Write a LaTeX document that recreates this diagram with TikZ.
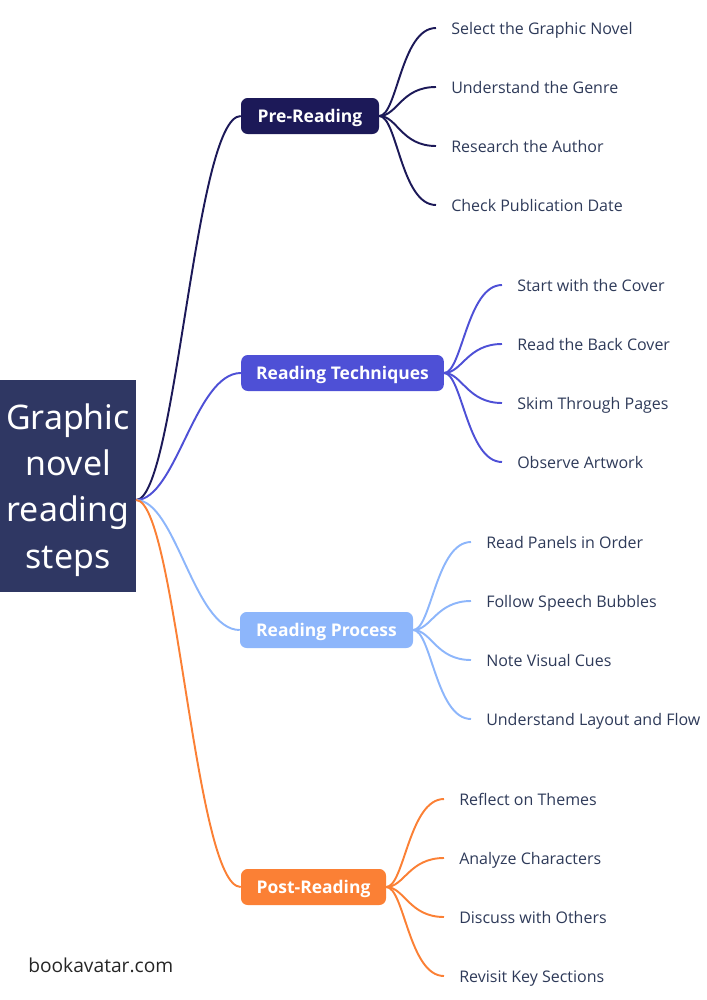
\documentclass[tikz,border=0pt]{standalone}
\usepackage{fontspec}
\setmainfont{Open Sans}
\newfontfamily\titlefont{Noto Sans}
\usetikzlibrary{calc}
\definecolor{cone}{HTML}{1C1958}
\definecolor{ctwo}{HTML}{4E50D6}
\definecolor{cthree}{HTML}{8DB6FB}
\definecolor{cfour}{HTML}{FB8035}
\definecolor{croot}{HTML}{2F3763}
\definecolor{ctext}{HTML}{2E3A59}
\tikzset{
 px/.style={x=0.75pt,y=-0.75pt},
 rootbox/.style={fill=croot,minimum width=102pt,minimum height=159pt,inner sep=0pt},
 roottext/.style={text=white,inner sep=0pt,align=center,font=\titlefont\fontsize{25.4}{34.6}\selectfont},
 branch/.style={rounded corners=5pt,minimum height=27pt,inner sep=0pt,text height=11pt,text depth=1pt,text=white,font=\fontsize{13.1}{15}\selectfont\bfseries},
 leaf/.style={inner sep=0pt,text=ctext,anchor=west,text height=10.5pt,text depth=1.1pt,font=\fontsize{12}{15}\selectfont},
 link/.style={line width=1.45pt},
 foot/.style={inner sep=0pt,anchor=west,text=black!85,font=\fontsize{14.4}{16}\selectfont},
}
\begin{document}
\begin{tikzpicture}[px]
\useasboundingbox (0,0) rectangle (707,1000);
\node[rootbox] (root) at (68,486) {};
\node[roottext] (rootlabel) at (68,490) {Graphic\\novel\\reading\\steps};
\coordinate (rootout) at (136,500);
\node[branch,fill=cone,minimum width=103.5pt] (b1) at (310,116) {Pre-Reading};
\node[branch,fill=ctwo,minimum width=152pt] (b2) at (342.5,373) {Reading Techniques};
\node[branch,fill=cthree,minimum width=129.75pt] (b3) at (326.5,630) {Reading Process};
\node[branch,fill=cfour,minimum width=108.75pt] (b4) at (313.5,887) {Post-Reading};
\foreach \n/\c in {b1/cone,b2/ctwo,b3/cthree,b4/cfour}{
 \draw[link,\c] (rootout) .. controls ($(rootout)+(40,0)$) and ($(\n.west)+(-46,0)$) .. (\n.west);
}
\foreach \i/\t/\x/\y in {a1/Select the Graphic Novel/451/28,a2/Understand the Genre/451/87,a3/Research the Author/451/146,a4/Check Publication Date/451/205}{
 \node[leaf] (\i) at (\x,\y) {\t};
 \coordinate (\i e) at (\x-15,\y);
 \draw[link,cone] (b1.east) .. controls ($(b1.east)+(18,0)$) and ($(\i e)+(-35,0)$) .. (\i e);
}
\foreach \i/\t/\x/\y in {c1/Start with the Cover/517/285,c2/Read the Back Cover/517/344,c3/Skim Through Pages/517/403,c4/Observe Artwork/517/462}{
 \node[leaf] (\i) at (\x,\y) {\t};
 \coordinate (\i e) at (\x-15,\y);
 \draw[link,ctwo] (b2.east) .. controls ($(b2.east)+(18,0)$) and ($(\i e)+(-35,0)$) .. (\i e);
}
\foreach \i/\t/\x/\y in {d1/Read Panels in Order/486/542,d2/Follow Speech Bubbles/486/601,d3/Note Visual Cues/486/660,d4/Understand Layout and Flow/486/719}{
 \node[leaf] (\i) at (\x,\y) {\t};
 \coordinate (\i e) at (\x-15,\y);
 \draw[link,cthree] (b3.east) .. controls ($(b3.east)+(18,0)$) and ($(\i e)+(-35,0)$) .. (\i e);
}
\foreach \i/\t/\x/\y in {e1/Reflect on Themes/459/799,e2/Analyze Characters/459/858,e3/Discuss with Others/459/917,e4/Revisit Key Sections/459/976}{
 \node[leaf] (\i) at (\x,\y) {\t};
 \coordinate (\i e) at (\x-15,\y);
 \draw[link,cfour] (b4.east) .. controls ($(b4.east)+(18,0)$) and ($(\i e)+(-35,0)$) .. (\i e);
}
\node[foot] (site) at (28,965) {bookavatar.com};
\end{tikzpicture}
\end{document}
